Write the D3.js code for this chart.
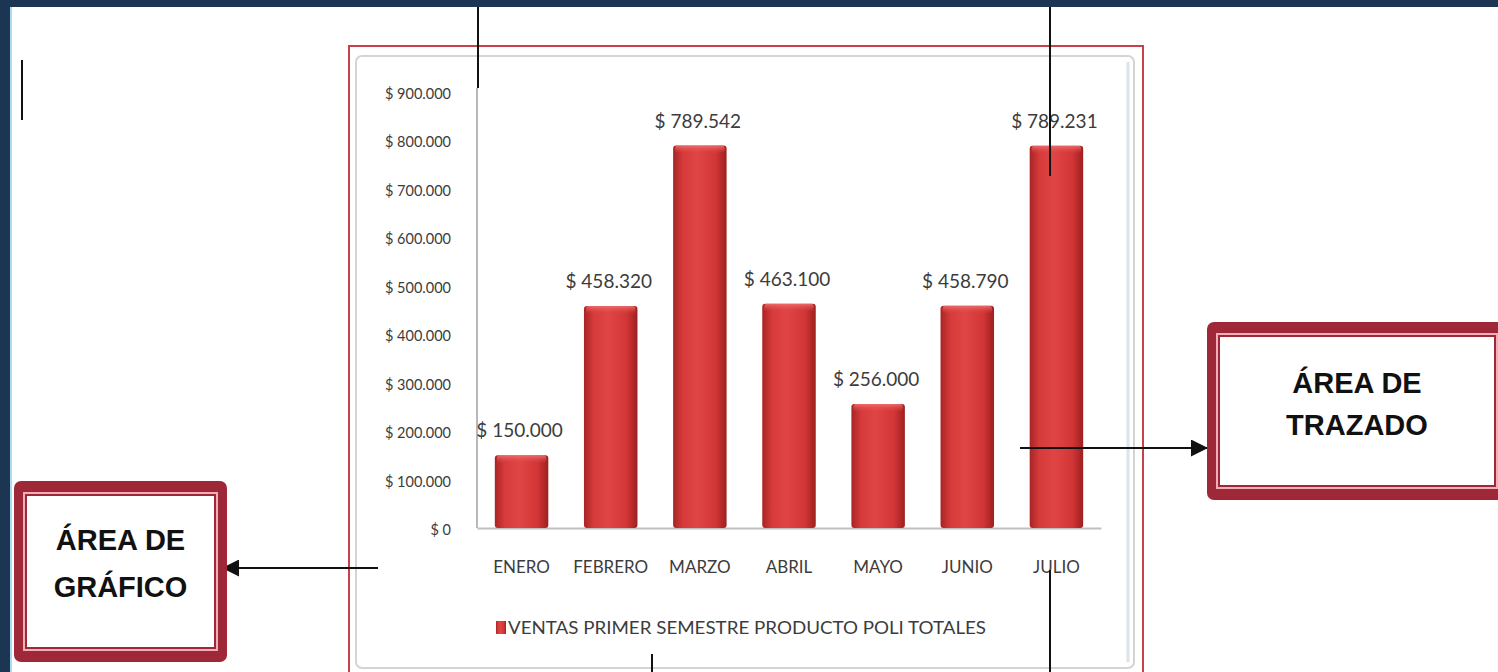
<!DOCTYPE html>
<html>
<head>
<meta charset="utf-8">
<script src="https://cdn.jsdelivr.net/npm/d3@7"></script>
<style>
  body { margin: 0; background: #fff; }
  svg { display: block; }
</style>
</head>
<body>
<div id="chart"></div>
<script>
const width = 1498;
const height = 672;

// data
const months = ["ENERO", "FEBRERO", "MARZO", "ABRIL", "MAYO", "JUNIO", "JULIO"];
const ventas = [150000, 458320, 789542, 463100, 256000, 458790, 789231];
const yTicks = [0, 100000, 200000, 300000, 400000, 500000, 600000, 700000, 800000, 900000];
const legendLabel = "VENTAS PRIMER SEMESTRE PRODUCTO POLI TOTALES";
const calloutGrafico = ["ÁREA DE", "GRÁFICO"];
const calloutTrazado = ["ÁREA DE", "TRAZADO"];

const locale = d3.formatLocale({
  decimal: ",",
  thousands: ".",
  grouping: [3],
  currency: ["$ ", ""],
});
const money = locale.format("$,.0f");

const svg = d3
  .select("#chart")
  .append("svg")
  .attr("width", width)
  .attr("height", height);

const defs = svg.append("defs");

const barGrad = defs
  .append("linearGradient")
  .attr("id", "bar")
  .attr("x1", "0%")
  .attr("x2", "100%");
[
  ["0%", "#a82424"],
  ["18%", "#d63a3a"],
  ["45%", "#e04545"],
  ["80%", "#d23535"],
  ["100%", "#9c2020"],
].forEach(([o, c]) => barGrad.append("stop").attr("offset", o).attr("stop-color", c));

const capGrad = defs
  .append("linearGradient")
  .attr("id", "cap")
  .attr("x1", "0%")
  .attr("x2", "0%")
  .attr("y1", "0%")
  .attr("y2", "100%");
capGrad.append("stop").attr("offset", "0%").attr("stop-color", "#f07070").attr("stop-opacity", 0.9);
capGrad.append("stop").attr("offset", "100%").attr("stop-color", "#e04545").attr("stop-opacity", 0);

defs
  .append("marker")
  .attr("id", "arrow")
  .attr("viewBox", "0 0 10 10")
  .attr("refX", 10)
  .attr("refY", 5)
  .attr("markerWidth", 17)
  .attr("markerHeight", 17)
  .attr("markerUnits", "userSpaceOnUse")
  .attr("orient", "auto")
  .append("path")
  .attr("d", "M0,0L10,5L0,10Z")
  .attr("fill", "#111");

// dark slide background edges
svg.append("rect").attr("x", 0).attr("y", 0).attr("width", width).attr("height", 7).attr("fill", "#1c3553");
svg.append("rect").attr("x", 0).attr("y", 0).attr("width", 10).attr("height", height).attr("fill", "#1c3553");
svg.append("rect").attr("x", 10).attr("y", 7).attr("width", 2).attr("height", height).attr("fill", "#a8dcf2");

// small cursor line
svg.append("line").attr("x1", 22).attr("x2", 22).attr("y1", 60).attr("y2", 120).attr("stroke", "#111").attr("stroke-width", 2);

// chart area frames
svg
  .append("rect")
  .attr("x", 349)
  .attr("y", 46)
  .attr("width", 794)
  .attr("height", 640)
  .attr("fill", "#fff")
  .attr("stroke", "#c8404c")
  .attr("stroke-width", 2);
svg
  .append("rect")
  .attr("x", 356)
  .attr("y", 56)
  .attr("width", 778)
  .attr("height", 612)
  .attr("rx", 6)
  .attr("fill", "#fff")
  .attr("stroke", "#d4d4d4")
  .attr("stroke-width", 2);
svg
  .append("line")
  .attr("x1", 1128)
  .attr("x2", 1128)
  .attr("y1", 62)
  .attr("y2", 662)
  .attr("stroke", "#dde4e8")
  .attr("stroke-width", 3);

const x = d3.scaleBand().domain(months).range([477, 1101]).paddingInner(0.4).paddingOuter(0.2);
const y = d3.scaleLinear().domain([0, 900000]).range([528, 92]);

const font = "Lato, 'Open Sans', sans-serif";

// y axis
const yAxis = svg
  .append("g")
  .attr("transform", "translate(477,0)")
  .call(d3.axisLeft(y).tickValues(yTicks).tickSize(0).tickPadding(26).tickFormat(money));
yAxis.select(".domain").attr("stroke", "#b8b8b8").attr("stroke-width", 2).attr("d", "M0,88V528");
yAxis
  .selectAll("text")
  .attr("font-family", font)
  .attr("font-size", 14.5)
  .attr("fill", "#3c3c3c")
  .attr("dy", "0.45em");

// x axis
const xAxis = svg
  .append("g")
  .attr("transform", "translate(0,528)")
  .call(d3.axisBottom(x).tickSize(0).tickPadding(33));
xAxis.select(".domain").attr("stroke", "#c0c0c0").attr("stroke-width", 2);
xAxis
  .selectAll("text")
  .attr("font-family", font)
  .attr("font-size", 17)
  .attr("fill", "#3c3c3c");

// bars
const bars = svg.append("g");
bars
  .selectAll("rect.bar")
  .data(ventas)
  .join("rect")
  .attr("class", "bar")
  .attr("x", (d, i) => x(months[i]))
  .attr("y", (d) => y(d))
  .attr("width", x.bandwidth())
  .attr("height", (d) => y(0) - y(d))
  .attr("rx", 3)
  .attr("fill", "url(#bar)");
bars
  .selectAll("rect.cap")
  .data(ventas)
  .join("rect")
  .attr("class", "cap")
  .attr("x", (d, i) => x(months[i]) + 2)
  .attr("y", (d) => y(d))
  .attr("width", x.bandwidth() - 4)
  .attr("height", 8)
  .attr("rx", 3)
  .attr("fill", "url(#cap)");

// value labels
svg
  .append("g")
  .selectAll("text")
  .data(ventas)
  .join("text")
  .attr("x", (d, i) => x(months[i]) + x.bandwidth() / 2 - 2)
  .attr("y", (d) => y(d) - 18)
  .attr("text-anchor", "middle")
  .attr("font-family", font)
  .attr("font-size", 19)
  .attr("fill", "#3c3c3c")
  .text((d) => money(d));

// legend
const legend = svg.append("g").attr("transform", "translate(496,621)");
legend.append("rect").attr("width", 10).attr("height", 13).attr("fill", "url(#bar)");
legend
  .append("text")
  .attr("x", 12)
  .attr("y", 13)
  .attr("font-family", font)
  .attr("font-size", 17)
  .attr("fill", "#3c3c3c")
  .attr("textLength", 478)
  .attr("lengthAdjust", "spacingAndGlyphs")
  .text(legendLabel);

// callout lines
const lines = [
  [478, 7, 478, 88],
  [1050, 7, 1050, 176],
  [652, 654, 652, 672],
  [1050, 570, 1050, 672],
];
svg
  .append("g")
  .selectAll("line")
  .data(lines)
  .join("line")
  .attr("x1", (d) => d[0])
  .attr("y1", (d) => d[1])
  .attr("x2", (d) => d[2])
  .attr("y2", (d) => d[3])
  .attr("stroke", "#111")
  .attr("stroke-width", 2);

svg
  .append("line")
  .attr("x1", 378)
  .attr("y1", 568)
  .attr("x2", 222)
  .attr("y2", 568)
  .attr("stroke", "#111")
  .attr("stroke-width", 2)
  .attr("marker-end", "url(#arrow)");
svg
  .append("line")
  .attr("x1", 1020)
  .attr("y1", 448)
  .attr("x2", 1208)
  .attr("y2", 448)
  .attr("stroke", "#111")
  .attr("stroke-width", 2)
  .attr("marker-end", "url(#arrow)");

// callout boxes
function callout(x0, y0, w, h, lines, baselines) {
  const g = svg.append("g");
  g.append("rect").attr("x", x0).attr("y", y0).attr("width", w).attr("height", h).attr("rx", 7).attr("fill", "#9e2838");
  g.append("rect").attr("x", x0 + 9).attr("y", y0 + 11).attr("width", w - 18).attr("height", h - 22).attr("fill", "#f2aeb6");
  g.append("rect")
    .attr("x", x0 + 12)
    .attr("y", y0 + 14)
    .attr("width", w - 24)
    .attr("height", h - 28)
    .attr("fill", "#fff")
    .attr("stroke", "#9e2838")
    .attr("stroke-width", 2);
  g.selectAll("text")
    .data(lines)
    .join("text")
    .attr("x", x0 + w / 2)
    .attr("y", (d, i) => baselines[i])
    .attr("text-anchor", "middle")
    .attr("font-family", "'Liberation Sans', Arial, sans-serif")
    .attr("font-weight", "bold")
    .attr("font-size", 29)
    .attr("fill", "#111")
    .text((d) => d);
}
callout(14, 481, 213, 181, calloutGrafico, [550, 597]);
callout(1207, 322, 300, 178, calloutTrazado, [393, 435]);
</script>
</body>
</html>
